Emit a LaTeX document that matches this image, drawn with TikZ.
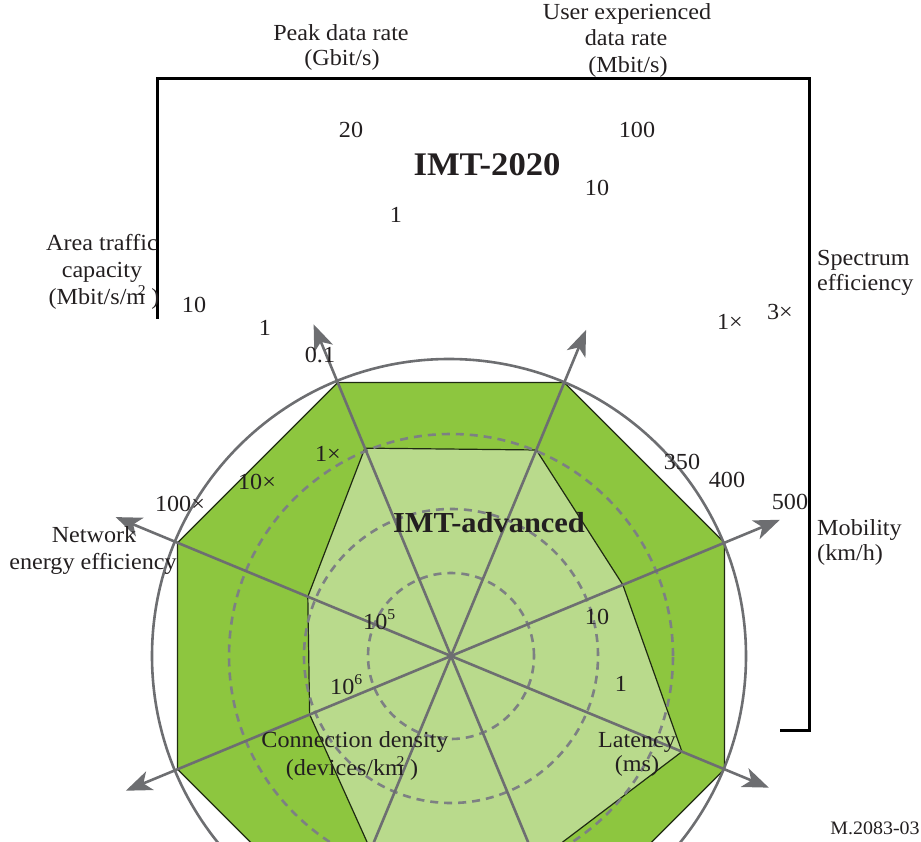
\documentclass[tikz,border=0pt]{standalone}
\usepackage{fontspec}
\setmainfont[FakeStretch=1.05]{Liberation Serif}
\usetikzlibrary{arrows.meta,calc}
\definecolor{outergreen}{HTML}{8DC63F}
\definecolor{innergreen}{HTML}{B9DA8C}
\definecolor{spokegray}{HTML}{6D6E71}
\definecolor{ringgray}{HTML}{7D8083}
\definecolor{edgedark}{HTML}{1F2A12}
\definecolor{inkcol}{HTML}{231F20}
\newcommand{\supfig}[1]{\raisebox{10pt}{\fontsize{15}{15}\selectfont #1}}
\newcommand{\overm}[1]{\rlap{\kern-0.32em\raisebox{9pt}{\fontsize{15}{15}\selectfont #1}}}
\begin{document}
\begin{tikzpicture}[x=1pt,y=-1pt,
  lbl/.style={font=\fontsize{23}{26}\selectfont, inner sep=0pt, text=inkcol,
              text height=0.68em, text depth=0.22em},
  smalllbl/.style={font=\fontsize{19}{22}\selectfont, inner sep=0pt, text=inkcol},
  bigtitle/.style={font=\fontsize{33}{36}\selectfont\bfseries, inner sep=0pt, text=inkcol},
  midtitle/.style={font=\fontsize{29}{32}\selectfont\bfseries, inner sep=0pt, text=inkcol},
  frameline/.style={black, line width=3pt},
  polyedge/.style={edgedark, line width=1.2pt},
  ring/.style={ringgray, line width=2.6pt, dash pattern=on 8pt off 6pt},
  spoke/.style={spokegray, line width=2.6pt,
                -{Stealth[length=26pt,width=20pt,inset=7pt]}},
]
\clip (0,0) rectangle (921,842);

% chart centre and spoke tips
\coordinate (C) at (451,656);
\coordinate (T1) at ($(C)+(22.5:356pt)$);
\coordinate (T2) at ($(C)+(67.5:353pt)$);
\coordinate (T3) at ($(C)+(112.5:359pt)$);
\coordinate (T4) at ($(C)+(157.5:363pt)$);
\coordinate (T5) at ($(C)+(202.5:352pt)$);
\coordinate (T6) at ($(C)+(247.5:356pt)$);
\coordinate (T7) at ($(C)+(292.5:356pt)$);
\coordinate (T8) at ($(C)+(337.5:344pt)$);

% frame
\coordinate (F1) at (157,319);
\coordinate (F2) at (157,79);
\coordinate (F3) at (809,79);
\coordinate (F4) at (809,730);
\coordinate (F5) at (780,730);
\draw[frameline] (F1) -- (F2) -- (F3) -- (F4) -- (F5);

% IMT-2020 octagon
\draw[polyedge, fill=outergreen]
  ($(C)+(22.5:296pt)$) -- ($(C)+(67.5:296pt)$) -- ($(C)+(112.5:296pt)$) --
  ($(C)+(157.5:296pt)$) -- ($(C)+(202.5:296pt)$) -- ($(C)+(247.5:296pt)$) --
  ($(C)+(292.5:296pt)$) -- ($(C)+(337.5:296pt)$) -- cycle;

% IMT-advanced polygon
\draw[polyedge, fill=innergreen]
  ($(C)+(22.5:186pt)$) -- ($(C)+(67.5:223pt)$) -- ($(C)+(112.5:225pt)$) --
  ($(C)+(157.5:155pt)$) -- ($(C)+(202.5:153pt)$) -- ($(C)+(247.5:210pt)$) --
  ($(C)+(292.5:223pt)$) -- ($(C)+(337.5:250pt)$) -- cycle;

% dashed scale rings
\draw[ring] (C) circle[radius=83pt];
\draw[ring] (C) circle[radius=147pt];
\draw[ring] (C) circle[radius=222pt];

% outer ring
\draw[spokegray, line width=2.6pt] ($(C)+(-2,0)$) circle[radius=297pt];

% spokes
\foreach \t in {T1,T2,T3,T4,T5,T6,T7,T8} {\draw[spoke] (C) -- (\t);}

% titles
\node[bigtitle] (imt2020) at (487,165) {IMT-2020};
\node[midtitle] (imtadv) at (489,523) {IMT-advanced};

% axis names
\node[lbl] (peakA) at (341,38) {Peak data rate};
\node[lbl] (peakB) at (342,63) {(Gbit/s)};
\node[lbl] (userA) at (627,17) {User experienced};
\node[lbl] (userB) at (626,43) {data rate};
\node[lbl] (userC) at (628,70) {(Mbit/s)};
\node[lbl] (areaA) at (102,248) {Area traffic};
\node[lbl] (areaB) at (102,275) {capacity};
\node[lbl] (areaC) at (104,302) {(Mbit/s/m\overm{2}\ )};
\node[lbl, anchor=west] (specA) at (817,263) {Spectrum};
\node[lbl, anchor=west] (specB) at (817,288) {efficiency};
\node[lbl, anchor=west] (mobA) at (817,533) {Mobility};
\node[lbl, anchor=west] (mobB) at (817,558) {(km/h)};
\node[lbl] (netA) at (94,540) {Network};
\node[lbl] (netB) at (93,567) {energy efficiency};
\node[lbl] (connA) at (355,745) {Connection density};
\node[lbl] (connB) at (352,773) {(devices/km\overm{2}\ )};
\node[lbl] (latA) at (637,745) {Latency};
\node[lbl] (latB) at (637,769) {(ms)};

% scale values
\node[lbl] (peak20) at (351,135) {20};
\node[lbl] (peak1) at (396,220) {1};
\node[lbl] (user100) at (637,135) {100};
\node[lbl] (user10) at (597,193) {10};
\node[lbl] (area10) at (194,310) {10};
\node[lbl] (area1) at (265,333) {1};
\node[lbl] (area01) at (320,360) {0.1};
\node[lbl] (spec1) at (730,327) {1×};
\node[lbl] (spec3) at (780,317) {3×};
\node[lbl] (net1) at (328,459) {1×};
\node[lbl] (net10) at (257,487) {10×};
\node[lbl] (net100) at (180,509) {100×};
\node[lbl, anchor=west] (conn5) at (363,627) {10\supfig{5}};
\node[lbl, anchor=west] (conn6) at (330,692) {10\supfig{6}};
\node[lbl] (mob350) at (682,467) {350};
\node[lbl] (mob400) at (727,485) {400};
\node[lbl] (mob500) at (790,507) {500};
\node[lbl] (lat10) at (597,622) {10};
\node[lbl] (lat1) at (621,689) {1};
\node[smalllbl] (figno) at (875,828) {M.2083-03};
\end{tikzpicture}
\end{document}
